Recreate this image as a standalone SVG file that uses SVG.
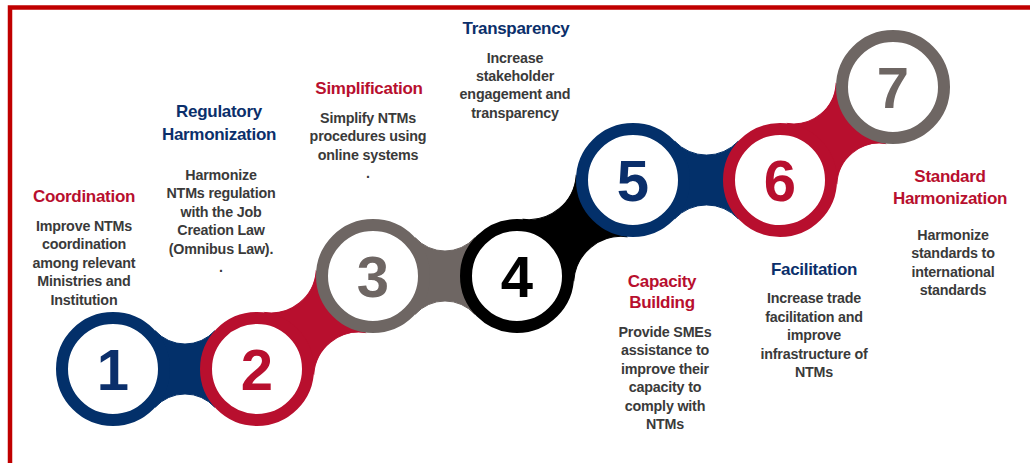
<svg xmlns="http://www.w3.org/2000/svg" width="1030" height="463" viewBox="0 0 1030 463">
  <style>
    .frame { fill: none; stroke: #C00000; stroke-width: 4.5; }
    .ring { fill: #ffffff; stroke-width: 12; }
    .num { font-family: "Liberation Sans", Arial, sans-serif; font-weight: bold; font-size: 58px; text-anchor: middle; }
    .title { font-family: "Liberation Sans", Arial, sans-serif; font-weight: bold; font-size: 17px; text-anchor: middle; letter-spacing: -0.3px; }
    .body { font-family: "Liberation Sans", Arial, sans-serif; font-weight: bold; font-size: 14.3px; text-anchor: middle; fill: #3a3a3a; letter-spacing: -0.2px; }
    .navy { fill: #03306A; stroke: #03306A; }
    .red { fill: #B80F2E; stroke: #B80F2E; }
    .gray { fill: #6E6663; stroke: #6E6663; }
    .black { fill: #000000; stroke: #000000; }
    .t-navy { fill: #0B2F6B; }
    .t-red { fill: #B80F2E; }
  </style>

  <rect class="frame" x="10" y="7.5" width="1100" height="520"/>

  <!-- links between consecutive steps, coloured like the step they leave -->
  <g id="connectors" stroke="none">
    <path class="navy" stroke="none" d="M155.3,330.8 A40,40 0 0 0 214.7,330.8 L214.7,407.2 A40,40 0 0 0 155.3,407.2 Z"/>
    <path class="red" stroke="none" transform="translate(257,369) rotate(-38.72)" d="M41.4,-39.18 A45.35,45.35 0 0 0 107.28,-39.18 L107.28,39.18 A45.35,45.35 0 0 0 41.4,39.18 Z"/>
    <path class="gray" stroke="none" d="M415.3,237.8 A40,40 0 0 0 474.7,237.8 L474.7,314.2 A40,40 0 0 0 415.3,314.2 Z"/>
    <path class="black" stroke="none" transform="translate(517,276) rotate(-39.61)" d="M41.04,-39.56 A47.57,47.57 0 0 0 109.53,-39.56 L109.53,39.56 A47.57,47.57 0 0 0 41.04,39.56 Z"/>
    <path class="navy" stroke="none" d="M674.7,141.2 A43.41,43.41 0 0 0 738.3,141.2 L738.3,218.8 A43.41,43.41 0 0 0 674.7,218.8 Z"/>
    <path class="red" stroke="none" transform="translate(780,180) rotate(-39.45)" d="M41.85,-38.7 A42.66,42.66 0 0 0 104.5,-38.7 L104.5,38.7 A42.66,42.66 0 0 0 41.85,38.7 Z"/>
  </g>

  <g id="step1">
    <circle class="ring navy" style="fill:#fff" cx="113" cy="369" r="51"/>
    <text class="num t-navy" x="113" y="390">1</text>
    <text class="title t-red" x="84" y="202">Coordination</text>
    <text class="body" x="84" y="231">Improve NTMs<tspan x="84" dy="18.4">coordination</tspan><tspan x="84" dy="18.4">among relevant</tspan><tspan x="84" dy="18.4">Ministries and</tspan><tspan x="84" dy="18.4">Institution</tspan></text>
  </g>

  <g id="step2">
    <circle class="ring red" style="fill:#fff" cx="257" cy="369" r="51"/>
    <text class="num t-red" x="257" y="390">2</text>
    <text class="title t-navy" x="219" y="117">Regulatory</text>
    <text class="title t-navy" x="219" y="140">Harmonization</text>
    <text class="body" x="221" y="180">Harmonize<tspan x="221" dy="18.4">NTMs regulation</tspan><tspan x="221" dy="18.4">with the Job</tspan><tspan x="221" dy="18.4">Creation Law</tspan><tspan x="221" dy="18.4">(Omnibus Law).</tspan><tspan x="221" dy="18.4">.</tspan></text>
  </g>

  <g id="step3">
    <circle class="ring gray" style="fill:#fff" cx="373" cy="276" r="51"/>
    <text class="num" style="fill:#6E6663" x="373" y="297">3</text>
    <text class="title t-red" x="369" y="94">Simplification</text>
    <text class="body" x="368" y="123">Simplify NTMs<tspan x="368" dy="18.4">procedures using</tspan><tspan x="368" dy="18.4">online systems</tspan><tspan x="368" dy="18.4">.</tspan></text>
  </g>

  <g id="step4">
    <circle class="ring black" style="fill:#fff" cx="517" cy="276" r="51"/>
    <text class="num" style="fill:#000" x="517" y="297">4</text>
    <text class="title t-navy" x="516" y="34">Transparency</text>
    <text class="body" x="515" y="63">Increase<tspan x="515" dy="18.2">stakeholder</tspan><tspan x="515" dy="18.2">engagement and</tspan><tspan x="515" dy="18.2">transparency</tspan></text>
  </g>

  <g id="step5">
    <circle class="ring navy" style="fill:#fff" cx="633" cy="180" r="51"/>
    <text class="num t-navy" x="633" y="201">5</text>
    <text class="title t-red" x="662" y="287">Capacity</text>
    <text class="title t-red" x="662" y="308">Building</text>
    <text class="body" x="665" y="337">Provide SMEs<tspan x="665" dy="18.4">assistance to</tspan><tspan x="665" dy="18.4">improve their</tspan><tspan x="665" dy="18.4">capacity to</tspan><tspan x="665" dy="18.4">comply with</tspan><tspan x="665" dy="18.4">NTMs</tspan></text>
  </g>

  <g id="step6">
    <circle class="ring red" style="fill:#fff" cx="780" cy="180" r="51"/>
    <text class="num t-red" x="780" y="201">6</text>
    <text class="title t-navy" x="814" y="275">Facilitation</text>
    <text class="body" x="814" y="303">Increase trade<tspan x="814" dy="18.5">facilitation and</tspan><tspan x="814" dy="18.5">improve</tspan><tspan x="814" dy="18.5">infrastructure of</tspan><tspan x="814" dy="18.5">NTMs</tspan></text>
  </g>

  <g id="step7">
    <circle class="ring gray" style="fill:#fff" cx="893" cy="87" r="51"/>
    <text class="num" style="fill:#6E6663" x="893" y="108">7</text>
    <text class="title t-red" x="950" y="182">Standard</text>
    <text class="title t-red" x="950" y="204">Harmonization</text>
    <text class="body" x="953" y="240">Harmonize<tspan x="953" dy="18.4">standards to</tspan><tspan x="953" dy="18.4">international</tspan><tspan x="953" dy="18.4">standards</tspan></text>
  </g>
</svg>
